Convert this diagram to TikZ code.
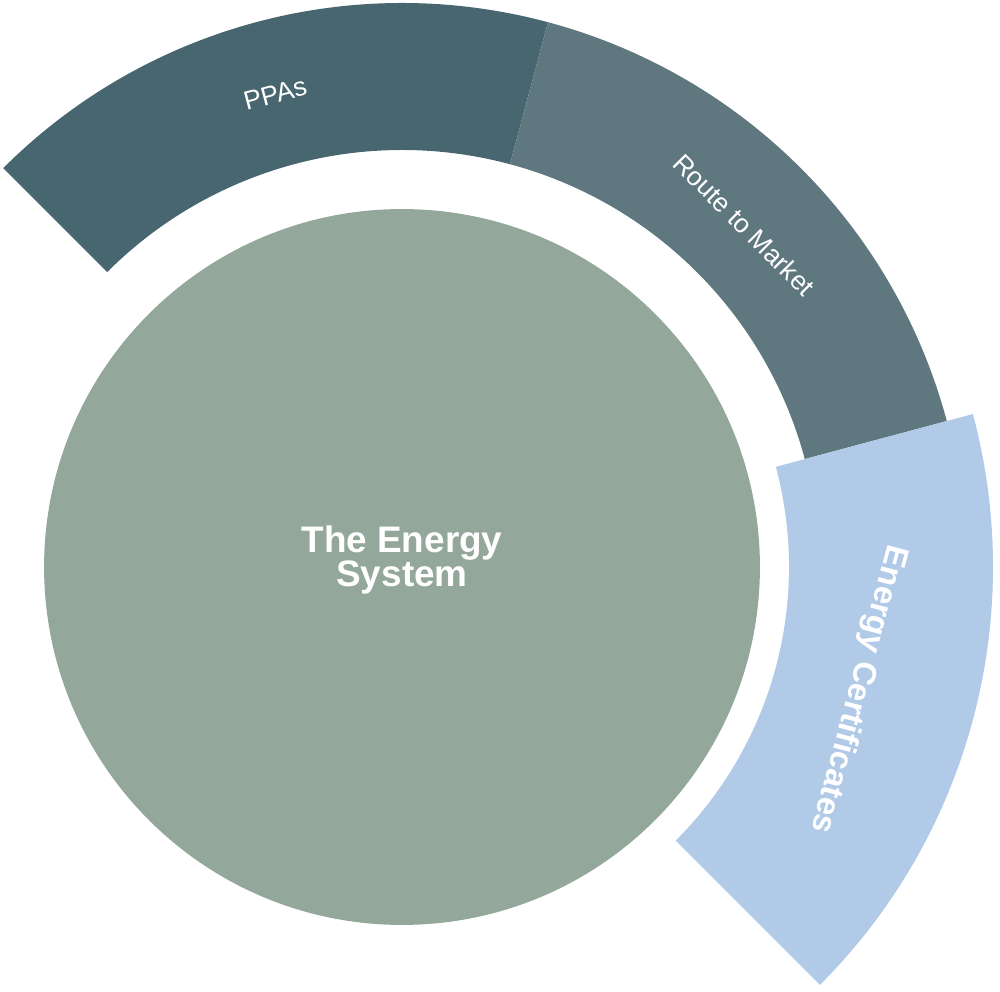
\documentclass[tikz,border=0pt]{standalone}
\usepackage{fontspec}
\setmainfont{Liberation Sans}
\usepackage{tikz}
\usetikzlibrary{positioning}
\definecolor{ppateal}{RGB}{72,102,112}
\definecolor{rtmslate}{RGB}{95,120,128}
\definecolor{certblue}{RGB}{177,202,232}
\definecolor{hubsage}{RGB}{147,168,154}
\tikzset{
  ppaseg/.style={fill=ppateal},
  rtmseg/.style={fill=rtmslate},
  certseg/.style={fill=certblue},
  hub/.style={circle, fill=hubsage, inner sep=0pt, minimum size=14.32cm},
  hubtext/.style={text=white, font=\fontsize{21}{19.5}\selectfont\bfseries, align=center},
  seglabel/.style={text=white, font=\fontsize{15}{18}\selectfont},
  certlabel/.style={text=white, font=\fontsize{18.5}{22}\selectfont\bfseries},
}

\begin{document}
\begin{tikzpicture}[x=0.02cm, y=0.02cm]
  \useasboundingbox (0,0) rectangle (1000,991);
  \begin{scope}[shift={(402,424)}]
    % outer ring
    \fill[ppaseg] (135:564) arc[start angle=135, end angle=75, radius=564]
      -- (75:417) arc[start angle=75, end angle=135, radius=417] -- cycle;
    \fill[rtmseg] (75:564) arc[start angle=75, end angle=15, radius=564]
      -- (15:417) arc[start angle=15, end angle=75, radius=417] -- cycle;
    \fill[certseg] (15:591) arc[start angle=15, end angle=-45, radius=591]
      -- (-45:387) arc[start angle=-45, end angle=15, radius=387] -- cycle;
    % hub
    \node[hub] (sys) at (0,0) {};
    \node[hubtext] (systxt) at (0,7) {The Energy\\System};
    % ring labels
    \node[seglabel, rotate=15] (ppa) at (105:490) {PPAs};
    \node[seglabel, rotate=-45] (rtm) at (45:484) {Route to Market};
    \node[certlabel, rotate=-105] (cert) at (-15:472) {Energy Certificates};
  \end{scope}
\end{tikzpicture}
\end{document}
